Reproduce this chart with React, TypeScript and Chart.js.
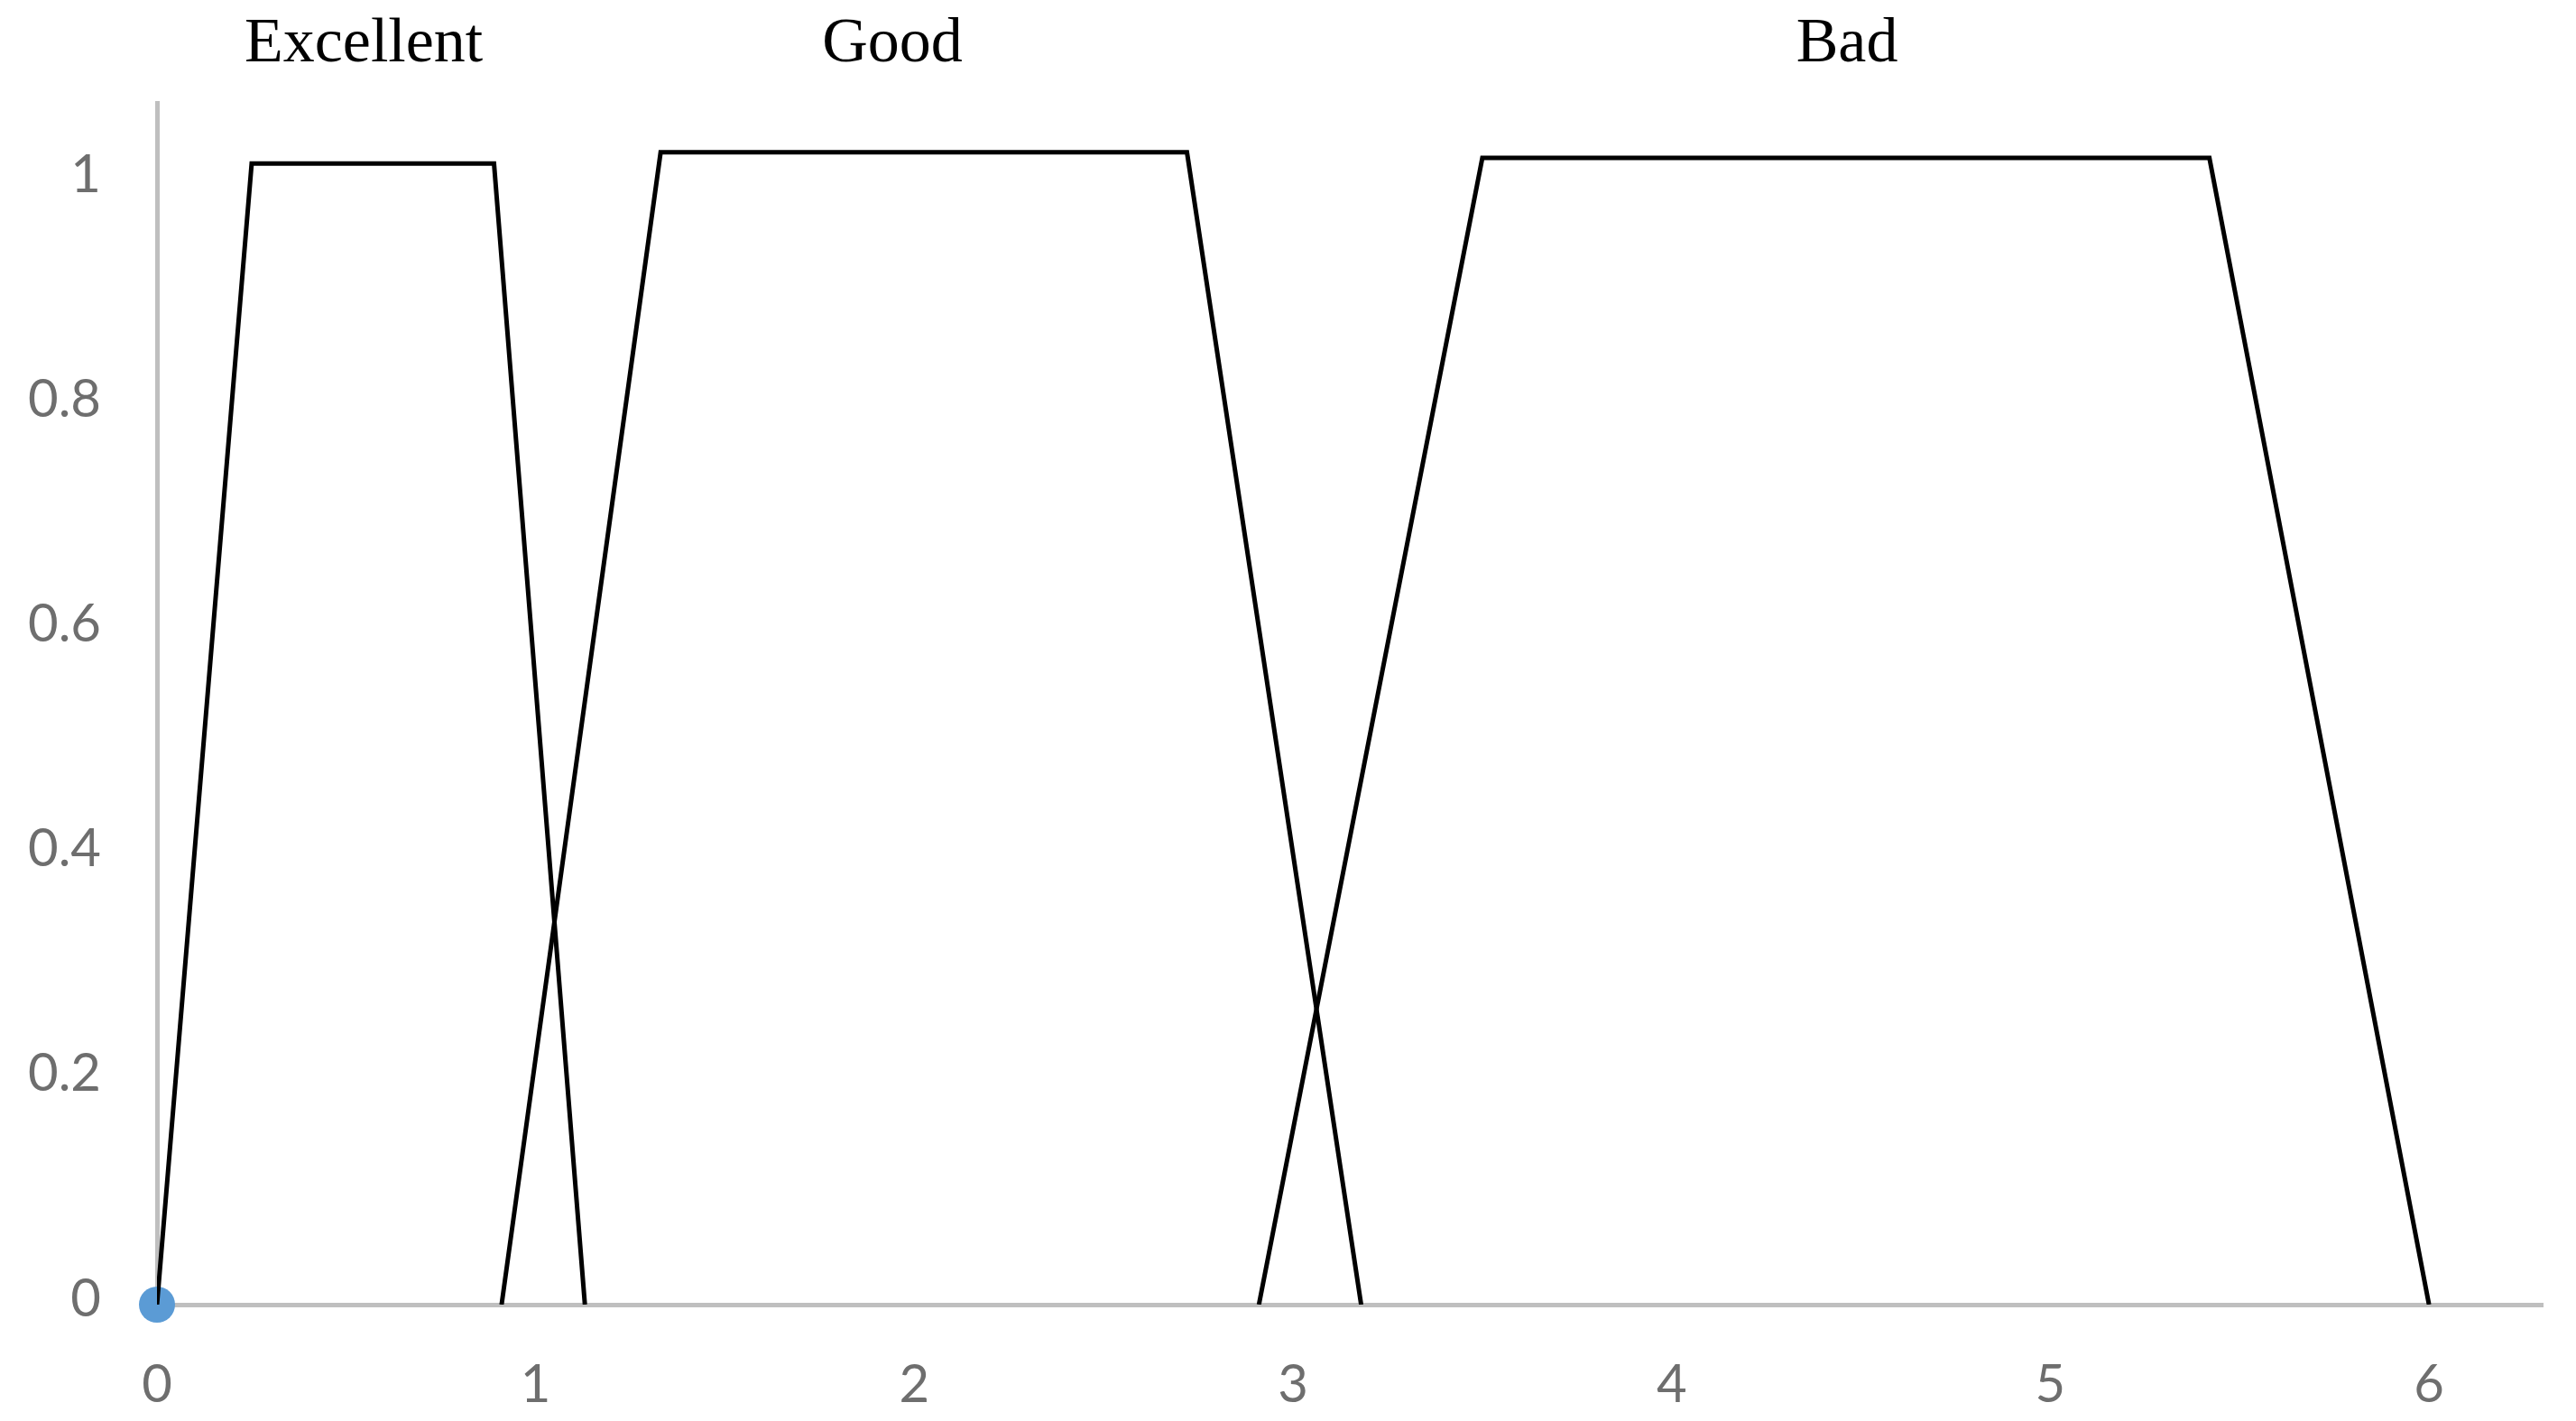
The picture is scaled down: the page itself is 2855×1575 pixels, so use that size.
import React, { useEffect, useRef } from "react";
import { Chart, registerables } from "chart.js";

Chart.register(...registerables);

// Membership functions (x, membership degree)
const excellentX = [0, 0.25, 0.89, 1.13];
const excellentY = [0, 1.015, 1.015, 0];
const goodX = [0.91, 1.33, 2.72, 3.18];
const goodY = [0, 1.025, 1.025, 0];
const badX = [2.91, 3.5, 5.42, 6.0];
const badY = [0, 1.02, 1.02, 0];
const originX = [0];
const originY = [0];

const categoryLabels = ["Excellent", "Good", "Bad"];
const categoryLabelX = [0.546, 1.942, 4.463];

const xTicks = [0, 1, 2, 3, 4, 5, 6];
const yTicks = [0, 0.2, 0.4, 0.6, 0.8, 1];

const toPoints = (xs: number[], ys: number[]) => xs.map((x, i) => ({ x, y: ys[i] }));

const topLabelsPlugin = {
  id: "topLabels",
  afterDraw(chart: any) {
    const ctx = chart.ctx;
    const xs = chart.scales.x;
    ctx.save();
    ctx.font = '70px "Liberation Serif", "Times New Roman", serif';
    ctx.fillStyle = "#000000";
    ctx.textAlign = "center";
    ctx.textBaseline = "alphabetic";
    categoryLabels.forEach((lab, i) => {
      ctx.fillText(lab, xs.getPixelForValue(categoryLabelX[i]), 68);
    });
    ctx.restore();
  },
};

export default function App() {
  const ref = useRef<HTMLCanvasElement | null>(null);

  useEffect(() => {
    if (!ref.current) return;
    const lineStyle = {
      showLine: true,
      borderColor: "#000000",
      borderWidth: 5,
      pointRadius: 0,
      tension: 0,
      borderJoinStyle: "miter" as const,
      fill: false,
    };
    const chart = new Chart(ref.current, {
      type: "scatter",
      data: {
        datasets: [
          { label: "Excellent", data: toPoints(excellentX, excellentY), ...lineStyle },
          { label: "Good", data: toPoints(goodX, goodY), ...lineStyle },
          { label: "Bad", data: toPoints(badX, badY), ...lineStyle },
          {
            label: "origin",
            data: toPoints(originX, originY),
            showLine: false,
            pointRadius: 20,
            pointBackgroundColor: "#5b9bd5",
            pointBorderWidth: 0,
            backgroundColor: "#5b9bd5",
            borderColor: "#5b9bd5",
            clip: false,
          } as any,
        ],
      },
      options: {
        animation: false,
        responsive: true,
        maintainAspectRatio: false,
        layout: { padding: { top: 114, right: 37, left: 0, bottom: 0 } },
        plugins: {
          legend: { display: false },
          tooltip: { enabled: false },
        },
        scales: {
          x: {
            type: "linear",
            min: 0,
            max: 6.3,
            grid: { display: false, drawTicks: false },
            border: { display: true, color: "#bfbfbf", width: 5 },
            afterBuildTicks: (scale: any) => {
              scale.ticks = xTicks.map((v) => ({ value: v }));
            },
            afterFit: (scale: any) => {
              scale.height = 1575 - 1446;
            },
            ticks: {
              includeBounds: false,
              padding: 54,
              color: "#6e6e6e",
              font: { family: "Lato", size: 58 },
              callback: (v: any) => String(v),
            },
          },
          y: {
            type: "linear",
            min: 0,
            max: 1.069,
            grid: { display: false, drawTicks: false },
            border: { display: true, color: "#bfbfbf", width: 5 },
            afterBuildTicks: (scale: any) => {
              scale.ticks = yTicks.map((v) => ({ value: v }));
            },
            afterFit: (scale: any) => {
              scale.width = 174;
            },
            ticks: {
              includeBounds: false,
              padding: 62,
              labelOffset: -6,
              color: "#6e6e6e",
              font: { family: "Lato", size: 58 },
              callback: (v: any) => String(Math.round(Number(v) * 10) / 10),
            },
          },
        },
      },
      plugins: [topLabelsPlugin],
    });
    return () => chart.destroy();
  }, []);

  return (
    <div style={{ position: "absolute", left: 0, top: 0, width: 2855, height: 1575, background: "#ffffff" }}>
      <canvas ref={ref} />
    </div>
  );
}
